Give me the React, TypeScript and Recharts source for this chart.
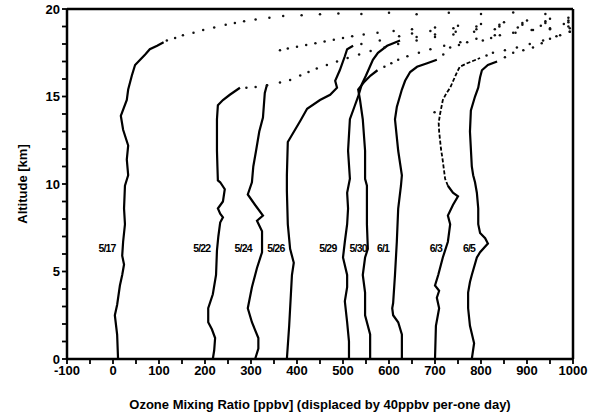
import { ScatterChart, Scatter, XAxis, YAxis, ReferenceDot } from "recharts"

type Pt = [number, number] // [altitude km, displaced ozone ppbv]

const DATES = ["5/17", "5/22", "5/24", "5/26", "5/29", "5/30", "6/1", "6/3", "6/5"]
const LABEL_X = [-13, 193, 283, 354, 467, 533, 587, 702, 774]
const LABEL_ALT = 6.3

const X_TICKS = [-100, -50, 0, 50, 100, 150, 200, 250, 300, 350, 400, 450, 500, 550, 600, 650, 700, 750, 800, 850, 900, 950, 1000]
const Y_TICKS = [0, 1, 2, 3, 4, 5, 6, 7, 8, 9, 10, 11, 12, 13, 14, 15, 16, 17, 18, 19, 20]

// solid (lower) part of each sounding
const s0517: Pt[] = [[0, 11], [1.4, 9], [2.5, 4], [3.1, 9], [4.2, 15], [4.8, 20], [5.4, 24], [5.9, 20], [6.7, 22], [7.7, 26], [8.6, 24], [9.9, 26], [10.5, 33], [11.4, 30], [12.2, 33], [13.1, 22], [13.9, 17], [14.8, 30], [15.4, 33], [16.2, 41], [16.8, 48], [17.1, 59], [17.4, 70], [17.7, 80], [17.9, 96], [18.1, 110]]
const s0522: Pt[] = [[0, 217], [0.5, 220], [1.2, 222], [1.7, 215], [2.1, 207], [2.9, 207], [3.7, 217], [4.8, 224], [6.2, 226], [7.0, 229], [7.8, 233], [8.1, 239], [8.3, 233], [8.6, 228], [9.0, 239], [9.7, 243], [10.1, 233], [10.2, 228], [11.0, 227], [11.9, 226], [12.8, 226], [13.7, 226], [14.5, 228], [14.8, 239], [15.1, 254], [15.5, 276]]
const s0524: Pt[] = [[0, 309], [0.6, 316], [1.2, 316], [2.1, 302], [2.9, 293], [4.1, 302], [5.2, 313], [6.1, 324], [7.3, 324], [7.9, 313], [8.2, 326], [8.8, 309], [9.4, 293], [10.1, 302], [11.0, 305], [11.9, 311], [13.0, 318], [13.8, 326], [15.2, 330], [15.7, 335]]
const s0526: Pt[] = [[0, 378], [1.9, 383], [4.8, 389], [5.5, 393], [6.3, 385], [7.7, 380], [9.6, 378], [10.5, 378], [12.4, 380], [12.8, 389], [13.6, 407], [14.3, 422], [14.8, 450], [15.1, 472], [15.5, 487], [15.9, 483], [16.5, 493], [17.3, 504], [17.7, 509], [17.9, 522]]
const s0529: Pt[] = [[0, 513], [1.0, 513], [2.1, 509], [3.3, 504], [4.1, 509], [4.8, 509], [5.8, 500], [6.7, 504], [7.7, 509], [8.6, 511], [9.5, 509], [10.3, 515], [11.9, 511], [13.7, 515], [14.5, 526], [15.0, 533], [15.7, 541], [16.2, 550], [17.1, 565], [17.5, 576], [17.9, 596], [18.2, 624]]
const s0530: Pt[] = [[0, 559], [1.4, 559], [2.5, 548], [3.8, 548], [4.8, 543], [5.8, 548], [6.3, 554], [7.7, 552], [8.6, 552], [9.9, 552], [10.3, 548], [11.9, 548], [13.7, 543], [14.8, 537], [15.4, 533], [15.8, 545], [16.2, 560], [16.5, 575]]
const s0601: Pt[] = [[0, 628], [1.4, 628], [2.1, 620], [2.5, 609], [2.9, 607], [3.2, 609], [4.8, 613], [6.7, 617], [8.6, 620], [9.9, 626], [10.5, 628], [11.9, 620], [13.7, 613], [14.4, 617], [15.4, 628], [15.9, 635], [16.4, 646], [16.7, 661], [16.9, 683], [17.1, 704]]
const s0603: Pt[] = [[0, 700], [1.9, 702], [2.9, 709], [3.5, 704], [3.9, 709], [4.2, 700], [4.8, 707], [5.8, 717], [6.7, 728], [7.7, 733], [8.2, 728], [8.8, 739], [9.3, 750], [9.5, 739], [9.9, 728]]
const s0605: Pt[] = [[0, 780], [0.9, 785], [1.9, 776], [2.9, 772], [3.8, 772], [4.4, 776], [4.8, 780], [5.8, 791], [6.1, 798], [6.6, 815], [6.9, 809], [7.2, 798], [7.7, 794], [8.6, 794], [9.5, 791], [10.1, 787], [10.5, 783], [11.0, 780], [13.0, 776], [14.2, 778], [15.0, 787], [15.5, 794], [16.1, 798], [16.5, 802], [16.8, 815], [17.0, 835]]

// broken (dashed) middle part of the 6/3 sounding
const b0603: Pt[] = [[9.9, 728], [10.3, 722], [10.7, 720], [11.1, 718], [11.5, 716], [12.0, 713], [12.5, 711], [13.0, 709], [13.5, 708], [14.0, 711], [14.4, 714], [14.8, 717], [15.2, 725], [15.5, 733], [15.8, 738], [16.1, 743], [16.4, 748], [16.7, 754], [16.9, 770], [17.2, 798]]

// dotted (upper) part of each sounding
const d0517: Pt[] = [[18.2, 117], [18.35, 135], [18.5, 152], [18.65, 175], [18.8, 196], [18.95, 220], [19.1, 245], [19.2, 265], [19.3, 285], [19.4, 310], [19.5, 340], [19.6, 370], [19.65, 410], [19.7, 450], [19.75, 490], [19.72, 540], [19.78, 600], [19.7, 660], [19.78, 730], [19.72, 800], [19.8, 870], [19.72, 940]]
const d0522: Pt[] = [[15.5, 290], [15.55, 310], [15.65, 335], [15.8, 363], [15.95, 385], [16.2, 407], [16.4, 425], [16.6, 443], [16.8, 465], [17.0, 487], [17.2, 510], [17.4, 535], [17.6, 560], [17.8, 590], [18.0, 620], [18.2, 660], [18.4, 700], [18.55, 740], [18.7, 785], [18.85, 830], [18.95, 880], [19.05, 930], [19.15, 980]]
const d0524: Pt[] = [[17.65, 363], [17.75, 380], [17.85, 400], [17.95, 420], [18.05, 440], [18.15, 460], [18.25, 480], [18.35, 500], [18.45, 520], [18.55, 545], [18.65, 575], [18.75, 610], [18.85, 650], [18.95, 700], [19.05, 750], [19.15, 800], [19.25, 850], [19.35, 900], [19.45, 950], [19.5, 990]]
const d0526: Pt[] = [[18.0, 540], [18.2, 580], [18.45, 622], [18.6, 650], [18.75, 690], [18.9, 740], [19.0, 790], [19.1, 840], [19.2, 890], [19.3, 940], [19.35, 990]]
const d0529: Pt[] = [[18.4, 660], [18.55, 700], [18.7, 745], [18.85, 790], [19.0, 840], [19.1, 890], [19.2, 940], [19.25, 990]]
const d0530: Pt[] = [[16.7, 590], [16.9, 605], [17.1, 620], [17.3, 640], [17.5, 665], [17.7, 690], [17.9, 720], [18.1, 755], [18.3, 790], [18.5, 830], [18.65, 870], [18.8, 910], [18.9, 950], [19.0, 990]]
const d0601: Pt[] = [[17.4, 718], [17.8, 733], [17.95, 752], [18.1, 770], [18.2, 804], [18.35, 822], [18.5, 841], [18.65, 875], [18.8, 913], [18.85, 950], [18.9, 993]]
const d0603: Pt[] = [[14.1, 699], [17.35, 812], [17.5, 826], [17.65, 852], [17.8, 878], [18.0, 906], [18.2, 935], [18.45, 964], [18.7, 993]]
const d0605: Pt[] = [[17.25, 852], [17.5, 870], [17.65, 892], [17.8, 913], [18.05, 932], [18.3, 950], [18.5, 972], [18.7, 993]]

const SOLID = [s0517, s0522, s0524, s0526, s0529, s0530, s0601, s0603, s0605]
const DOTS = [d0517, d0522, d0524, d0526, d0529, d0530, d0601, d0603, d0605]

const toRows = (pts: Pt[]) => pts.map(([alt, v]) => ({ alt, v }))
const dotRows = DOTS.flatMap((pts) => toRows(pts))

const FONT = "'Liberation Sans', Arial, sans-serif"

const Nothing = () => <g />
const Dot = (p: any) => <circle cx={p.cx} cy={p.cy} r={1.25} fill="#111" />

export default function App() {
  return (
    <div style={{ position: "absolute", left: 0, top: 0, background: "#fff" }}>
      <ScatterChart width={605} height={416} margin={{ top: 9, right: 32, bottom: 5, left: 0 }}>
        <XAxis
          type="number"
          dataKey="v"
          domain={[-100, 1000]}
          ticks={X_TICKS}
          interval={0}
          height={52}
          tickSize={5}
          stroke="#000"
          axisLine={{ stroke: "#000", strokeWidth: 2.5 }}
          tickLine={{ stroke: "#000", strokeWidth: 1.8 }}
          tick={{ fontSize: 13, fontWeight: 700, fill: "#000", fontFamily: FONT }}
          tickFormatter={(v: number) => (v % 100 === 0 ? String(v) : "")}
          label={{ value: "Ozone Mixing Ratio [ppbv] (displaced by 40ppbv per-one day)", position: "insideBottom", offset: 2, fill: "#000", fontSize: 13, fontWeight: 700, fontFamily: FONT }}
        />
        <XAxis xAxisId="top" orientation="top" type="number" dataKey="v" domain={[-100, 1000]} ticks={X_TICKS} interval={0} mirror tick={false} tickSize={5} axisLine={{ stroke: "#000", strokeWidth: 2.5 }} tickLine={{ stroke: "#000", strokeWidth: 1.8 }} />
        <YAxis
          type="number"
          dataKey="alt"
          domain={[0, 20]}
          ticks={Y_TICKS}
          interval={0}
          width={67}
          tickSize={5}
          stroke="#000"
          axisLine={{ stroke: "#000", strokeWidth: 2.5 }}
          tickLine={{ stroke: "#000", strokeWidth: 1.8 }}
          tick={{ fontSize: 13, fontWeight: 700, fill: "#000", fontFamily: FONT }}
          tickFormatter={(v: number) => (v % 5 === 0 ? String(v) : "")}
          label={{ value: "Altitude [km]", angle: -90, position: "insideLeft", offset: 22, fill: "#000", fontSize: 13, fontWeight: 700, fontFamily: FONT, style: { textAnchor: "middle" } }}
        />
        <YAxis yAxisId="right" orientation="right" type="number" dataKey="alt" domain={[0, 20]} ticks={Y_TICKS} interval={0} mirror tick={false} tickSize={5} axisLine={{ stroke: "#000", strokeWidth: 2.5 }} tickLine={{ stroke: "#000", strokeWidth: 1.8 }} />
        {SOLID.map((pts, i) => (
          <Scatter key={"s" + i} data={toRows(pts)} line={{ stroke: "#000", strokeWidth: 2.2 }} lineType="joint" shape={Nothing} isAnimationActive={false} />
        ))}
        <Scatter data={toRows(b0603)} xAxisId="top" yAxisId="right" line={{ stroke: "#000", strokeWidth: 1.8, strokeDasharray: "4 2" }} lineType="joint" shape={Nothing} isAnimationActive={false} />
        <Scatter data={dotRows} shape={Dot} isAnimationActive={false} />
        {DATES.map((name, i) => (
          <ReferenceDot key={name} x={LABEL_X[i]} y={LABEL_ALT} r={0} fill="none" stroke="none" label={{ value: name, position: "center", fill: "#000", fontSize: 10.5, fontWeight: 700, fontFamily: FONT, letterSpacing: -0.8 }} />
        ))}
      </ScatterChart>
    </div>
  )
}
